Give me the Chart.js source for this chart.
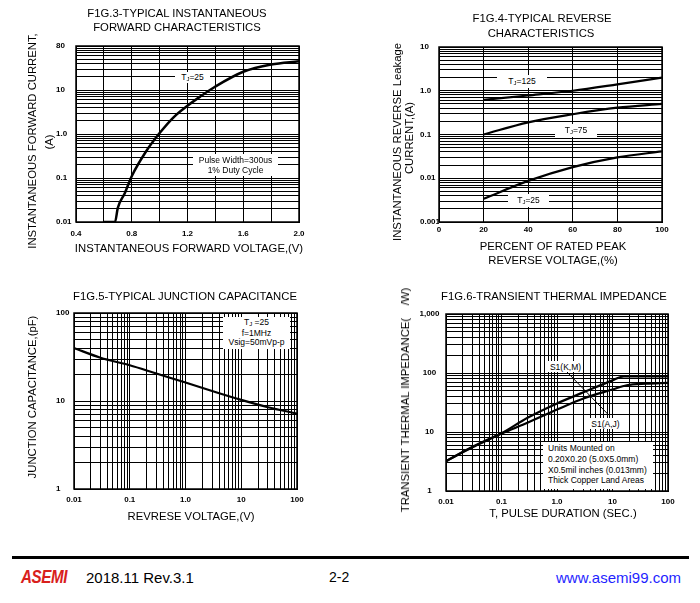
<!DOCTYPE html>
<html lang="en">
<head>
<meta charset="UTF-8">
<title>ASEMI typical characteristics 2-2</title>
<style>
  body { margin: 0; background: #fff; font-family: 'Liberation Sans', Arial, sans-serif; color: #000; }
  .page { position: relative; width: 700px; height: 603px; overflow: hidden; }
  canvas { position: absolute; }
  .c { position: absolute; white-space: nowrap; transform: translate(-50%, -50%); font-size: 11.3px; line-height: 14px; }
  .v { transform: translate(-50%, -50%) rotate(-90deg); }
  .note { position: absolute; background: #fff; font-size: 8.5px; line-height: 10px; text-align: center;
          white-space: nowrap; display: flex; flex-direction: column; justify-content: center; }
  .j { font-size: 6px; position: relative; top: 1px; }
  .foot { position: absolute; white-space: nowrap; transform: translateY(-50%); }
</style>
<script src="https://cdn.jsdelivr.net/npm/chart.js"></script>
</head>
<body>
<div class="page">
  <canvas id="fig3" width="350" height="270" style="left:0;top:0"></canvas>
  <canvas id="fig4" width="350" height="270" style="left:350px;top:0"></canvas>
  <canvas id="fig5" width="350" height="250" style="left:0;top:280px"></canvas>
  <canvas id="fig6" width="350" height="250" style="left:350px;top:280px"></canvas>

  <!-- titulos y ejes -->
  <div class="c" style="left:177px;top:13px">F1G.3-TYPICAL INSTANTANEOUS</div>
  <div class="c" style="left:177px;top:27px">FORWARD CHARACTERISTICS</div>
  <div class="c v" style="left:32px;top:141px">INSTANTANEOUS FORWARD CURRENT,</div>
  <div class="c v" style="left:49px;top:142px">(A)</div>
  <div class="c" style="left:189px;top:248px">INSTANTANEOUS FORWARD VOLTAGE,(V)</div>

  <div class="c" style="left:542px;top:18px">F1G.4-TYPICAL REVERSE</div>
  <div class="c" style="left:541px;top:33px">CHARACTERISTICS</div>
  <div class="c v" style="left:397px;top:142px">INSTANTANEOUS REVERSE Leakage</div>
  <div class="c v" style="left:409px;top:138px">CURRENT,(A)</div>
  <div class="c" style="left:553px;top:246px">PERCENT OF RATED PEAK</div>
  <div class="c" style="left:553px;top:260px">REVERSE VOLTAGE,(%)</div>

  <div class="c" style="left:185px;top:296px">F1G.5-TYPICAL JUNCTION CAPACITANCE</div>
  <div class="c v" style="left:32px;top:397px">JUNCTION CAPACITANCE,(pF)</div>
  <div class="c" style="left:191px;top:516px">REVRESE VOLTAGE,(V)</div>

  <div class="c" style="left:554px;top:296px">F1G.6-TRANSIENT THERMAL IMPEDANCE</div>
  <div class="c v" style="left:405px;top:400px">TRANSIENT THERMAL IMPEDANCE(&nbsp;&nbsp;&nbsp;&nbsp;/W)</div>
  <div class="c" style="left:563px;top:513px">T, PULSE DURATION (SEC.)</div>

  <!-- notas -->
  <div class="note" style="left:175px;top:72px;width:35px;height:11px">
    <div>T<span class="j">J</span>=25</div></div>
  <div class="note" style="left:193px;top:154px;width:85px;height:22px">
    <div>Pulse Width=300us</div><div>1% Duty Cycle</div></div>

  <div class="note" style="left:497px;top:75px;width:50px;height:13px">
    <div>T<span class="j">J</span>=125</div></div>
  <div class="note" style="left:555px;top:124px;width:42px;height:13px">
    <div>T<span class="j">J</span>=75</div></div>
  <div class="note" style="left:508px;top:194px;width:41px;height:13px">
    <div>T<span class="j">J</span>=25</div></div>

  <div class="note" style="left:223px;top:317px;width:67px;height:32px;line-height:9.7px">
    <div>T<span class="j">J</span> =25</div><div>f=1MHz</div><div>Vsig=50mVp-p</div></div>

  <div class="note" style="left:548px;top:361px;width:35px;height:11px"><div>S1(K,M)</div></div>
  <div class="note" style="left:589px;top:418px;width:33px;height:11px"><div>S1(A,J)</div></div>
  <div class="note" style="left:543px;top:442px;width:110px;height:47px;text-align:left;line-height:10.8px;justify-content:flex-start;padding-left:5px;box-sizing:border-box;padding-top:1px">
    <div>Units Mounted on</div><div>0.20X0.20 (5.0X5.0mm)</div>
    <div>X0.5mil inches (0.013mm)</div><div>Thick Copper Land Areas</div></div>

  <!-- pie de pagina -->
  <div style="position:absolute;left:12px;top:556px;width:677px;height:3px;background:#000"></div>
  <div class="foot" style="left:21px;top:577px;color:#d8201c;font-weight:bold;font-style:italic;font-size:19px;letter-spacing:-0.5px;transform:translateY(-50%) scaleX(0.8);transform-origin:left center">ASEMI</div>
  <div class="foot" style="left:86px;top:577px;font-size:15px">2018.11 Rev.3.1</div>
  <div class="foot" style="left:329px;top:577px;font-size:14px">2-2</div>
  <div class="foot" style="left:556px;top:577px;font-size:15px;color:#1f1fff">www.asemi99.com</div>
</div>

<script>
// FIG.3 forward characteristics
const fig3Volts = [0.6, 0.68, 0.7, 0.75, 0.8, 0.9, 1.0, 1.1, 1.2, 1.3, 1.4, 1.6, 1.8, 2.0];
const fig3Amps = [0.01, 0.01, 0.021, 0.045, 0.11, 0.39, 1.05, 2.4, 4.4, 7.4, 12, 26, 38, 45];
const fig3XGrid = [0.4, 0.6, 0.8, 1.0, 1.2, 1.4, 1.6, 1.8, 2.0];
const fig3XTicks = [0.4, 0.8, 1.2, 1.6, 2.0];
const fig3XLabels = ['0.4', '0.8', '1.2', '1.6', '2.0'];
const fig3YTicks = [0.01, 0.1, 1, 10, 100];
const fig3YLabels = ['0.01', '0.1', '1.0', '10', '80'];

// FIG.4 reverse characteristics
const fig4Percent = [20, 40, 60, 80, 100];
const fig4Tj125 = [0.62, 0.78, 1.0, 1.4, 2.0];
const fig4Tj75 = [0.10, 0.19, 0.29, 0.41, 0.50];
const fig4Tj25 = [0.0034, 0.0087, 0.018, 0.030, 0.041];
const fig4XTicks = [0, 20, 40, 60, 80, 100];
const fig4XLabels = ['0', '20', '40', '60', '80', '100'];
const fig4YTicks = [0.001, 0.01, 0.1, 1, 10];
const fig4YLabels = ['0.001', '0.01', '0.1', '1.0', '10'];

// FIG.5 junction capacitance
const fig5Volts = [0.01, 0.03, 0.1, 0.3, 1, 3, 10, 30, 100];
const fig5Cap = [40, 31, 25.5, 20.5, 16.2, 13, 10.3, 8.5, 7.2];
const fig5XTicks = [0.01, 0.1, 1, 10, 100];
const fig5XLabels = ['0.01', '0.1', '1.0', '10', '100'];
const fig5YTicks = [1, 10, 100];
const fig5YLabels = ['1', '10', '100'];

// FIG.6 transient thermal impedance
const fig6TimeKM = [0.01, 0.03, 0.1, 0.3, 1, 3, 10, 16, 100];
const fig6KM = [3.2, 5.5, 9.5, 17.6, 30.5, 47, 75, 88, 88];
const fig6TimeAJ = [0.01, 0.03, 0.1, 0.3, 1, 3, 10, 18, 40, 100];
const fig6AJ = [3.2, 5.6, 9.4, 14.5, 24, 37, 52.5, 62, 66, 68];
const fig6XTicks = [0.01, 0.1, 1, 10, 100];
const fig6XLabels = ['0.01', '0.1', '1.0', '10', '100'];
const fig6YTicks = [1, 10, 100, 1000];
const fig6YLabels = ['1', '10', '100', '1,000'];

Chart.defaults.font.family = "'Liberation Sans', Arial, sans-serif";

function logGrid(min, max) {
  const out = [];
  for (let e = Math.floor(Math.log10(min)); Math.pow(10, e) <= max; e++) {
    for (let k = 1; k < 10; k++) {
      const v = +(k * Math.pow(10, e)).toPrecision(6);
      if (v >= min && v <= max) out.push(v);
    }
  }
  return out;
}

function pts(xs, ys) {
  return xs.map((x, i) => ({ x: x, y: ys[i] }));
}

// eje con rejilla fija y etiquetas solo en algunos valores
function axis(type, min, max, grid, vals, labels, isX, fit, pad, align) {
  return {
    type: type, min: min, max: max,
    afterBuildTicks: a => { a.ticks = grid.map(v => ({ value: v })); },
    afterFit: a => { if (isX) a.height = fit; else a.width = fit; },
    ticks: {
      autoSkip: false, maxRotation: 0, padding: pad, color: '#000',
      crossAlign: align || 'near',
      font: { size: 8, weight: 'bold' },
      callback: value => {
        const i = vals.findIndex(t => Math.abs(t - value) <= Math.abs(t) * 1e-6);
        return i < 0 ? '' : labels[i];
      }
    },
    grid: { color: '#000', lineWidth: 1, drawTicks: false },
    border: { color: '#000', width: 1 }
  };
}

function line(data, w) {
  return {
    data: data, borderColor: '#000', borderWidth: w, pointRadius: 0,
    fill: false, cubicInterpolationMode: 'monotone'
  };
}

const frame = {
  id: 'frame',
  afterDraw(chart) {
    const a = chart.chartArea, ctx = chart.ctx;
    ctx.save();
    ctx.strokeStyle = '#000';
    ctx.lineWidth = 1.5;
    ctx.strokeRect(a.left, a.top, a.right - a.left, a.bottom - a.top);
    const ld = chart.options.plugins.leader;
    if (ld && ld.from) {
      const sx = chart.scales.x, sy = chart.scales.y;
      ctx.lineWidth = 1;
      ctx.beginPath();
      ctx.moveTo(sx.getPixelForValue(ld.from[0]), sy.getPixelForValue(ld.from[1]));
      ctx.lineTo(sx.getPixelForValue(ld.to[0]), sy.getPixelForValue(ld.to[1]));
      ctx.stroke();
    }
    ctx.restore();
  }
};

function make(id, datasets, xAxis, yAxis, padding, leader) {
  new Chart(document.getElementById(id), {
    type: 'line',
    data: { datasets: datasets },
    options: {
      responsive: false,
      animation: false,
      layout: { padding: padding },
      scales: { x: xAxis, y: yAxis },
      plugins: { legend: { display: false }, tooltip: { enabled: false }, leader: leader || {} }
    },
    plugins: [frame]
  });
}

make('fig3',
  [line(pts(fig3Volts, fig3Amps), 2.5)],
  axis('linear', 0.4, 2.0, fig3XGrid, fig3XTicks, fig3XLabels, true, 20, 6.5),
  axis('logarithmic', 0.01, 100, logGrid(0.01, 100), fig3YTicks, fig3YLabels, false, 20, 4, 'far'),
  { left: 56, top: 46, right: 51, bottom: 28 });

make('fig4',
  [line(pts(fig4Percent, fig4Tj125), 2.2),
   line(pts(fig4Percent, fig4Tj75), 2.2),
   line(pts(fig4Percent, fig4Tj25), 2.2)],
  axis('linear', 0, 100, fig4XTicks, fig4XTicks, fig4XLabels, true, 20, 2.5),
  axis('logarithmic', 0.001, 10, logGrid(0.001, 10), fig4YTicks, fig4YLabels, false, 19, 4, 'far'),
  { left: 70, top: 47, right: 38, bottom: 28 });

make('fig5',
  [line(pts(fig5Volts, fig5Cap), 2.2)],
  axis('logarithmic', 0.01, 100, logGrid(0.01, 100), fig5XTicks, fig5XLabels, true, 20, 6),
  axis('logarithmic', 1, 100, logGrid(1, 100), fig5YTicks, fig5YLabels, false, 18, 4, 'far'),
  { left: 56, top: 33, right: 53, bottom: 21 });

make('fig6',
  [line(pts(fig6TimeKM, fig6KM), 2.2),
   line(pts(fig6TimeAJ, fig6AJ), 2.2)],
  axis('logarithmic', 0.01, 100, logGrid(0.01, 100), fig6XTicks, fig6XLabels, true, 20, 6),
  axis('logarithmic', 1, 1000, logGrid(1, 1000), fig6YTicks, fig6YLabels, false, 40, 6.5, 'center'),
  { left: 56, top: 34, right: 32, bottom: 19 },
  { from: [1.5, 105], to: [8.5, 19.5] });
</script>
</body>
</html>
